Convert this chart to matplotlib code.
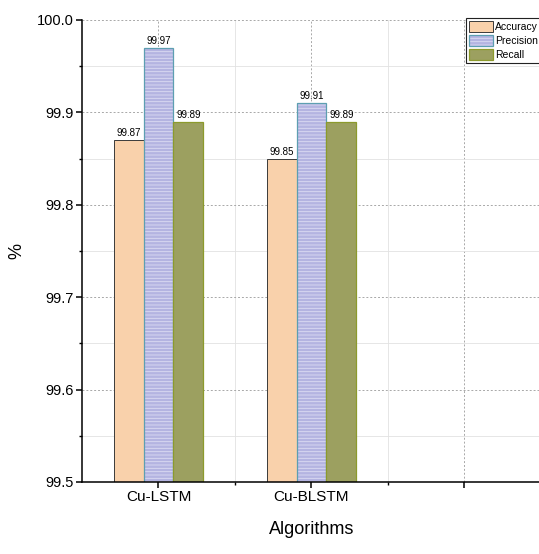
import numpy as np
import matplotlib.pyplot as plt
from matplotlib.legend_handler import HandlerTuple

plt.rcParams['font.family'] = ['Liberation Sans', 'DejaVu Sans']
plt.rcParams['hatch.linewidth'] = 0.6

# data
algorithms = ['Cu-LSTM', 'Cu-BLSTM']
tick_labels = ['Cu-LSTM', 'Cu-BLSTM', '']
accuracy = [99.87, 99.85]
precision = [99.97, 99.91]
recall = [99.89, 99.89]

x = np.arange(1, len(algorithms) + 1)
w = 0.195

fig = plt.figure(figsize=(5.39, 5.54), dpi=100)
ax = fig.add_axes([0.1521, 0.1300, 0.8516, 0.8339])

# grid behind bars
ax.set_axisbelow(True)
ax.grid(which='major', color='#a8a8a8', linestyle=(0, (2, 2)), linewidth=0.7)
ax.grid(which='minor', color='#e2e2e2', linestyle='-', linewidth=0.6)

b_acc = ax.bar(x - w, accuracy, w, color='#f9d1ab', edgecolor='#3a3a3a',
               linewidth=0.7, label='Accuracy')
# precision: hatched fill then a separate outline
b_prec = ax.bar(x, precision, w, color='#b4b4e1', edgecolor='#dcdcf3',
                hatch='-----', linewidth=0)
b_prec_edge = ax.bar(x, precision, w, fill=False, edgecolor='#5d9fb1',
                     linewidth=0.9)
b_rec = ax.bar(x + w, recall, w, color='#9ca060', edgecolor='#8c9a2c',
               linewidth=0.9, label='Recall')

for bars, vals in [(b_acc, accuracy), (b_prec, precision), (b_rec, recall)]:
    for bar, v in zip(bars, vals):
        ax.text(bar.get_x() + bar.get_width() / 2, v + 0.002, f'{v:.2f}',
                ha='center', va='bottom', fontsize=7)

ax.set_xlim(0.5, 3.5)
ax.set_ylim(99.5, 100.0)
ax.set_xticks([1, 2, 3])
ax.set_xticklabels(tick_labels, fontsize=11)
ax.set_xticks([1.5, 2.5, 3.5], minor=True)
ax.set_yticks(np.arange(99.5, 100.01, 0.1))
ax.set_yticklabels([f'{v:.1f}' for v in np.arange(99.5, 100.01, 0.1)], fontsize=10.5)
ax.set_yticks(np.arange(99.55, 100.0, 0.1), minor=True)

ax.tick_params(which='major', direction='out', length=4, width=1.1, pad=2)
ax.tick_params(which='minor', direction='out', length=2.5, width=1.0)

for s in ['top', 'right']:
    ax.spines[s].set_visible(False)
for s in ['left', 'bottom']:
    ax.spines[s].set_linewidth(1.1)

ax.set_xlabel('Algorithms', fontsize=13, labelpad=12)
ax.set_ylabel('%', fontsize=13, labelpad=8)

leg = ax.legend([b_acc, (b_prec, b_prec_edge), b_rec],
                ['Accuracy', 'Precision', 'Recall'],
                handler_map={tuple: HandlerTuple(ndivide=1, pad=0)},
                loc='upper left', bbox_to_anchor=(0.836, 1.005),
                fontsize=7.5, frameon=True, fancybox=False, framealpha=1,
                edgecolor='#222222', borderaxespad=0, borderpad=0.3,
                handlelength=2.3, handleheight=1.25, handletextpad=0.2,
                labelspacing=0.3)
leg.get_frame().set_linewidth(0.8)

fig.savefig('out.png', dpi=100)
